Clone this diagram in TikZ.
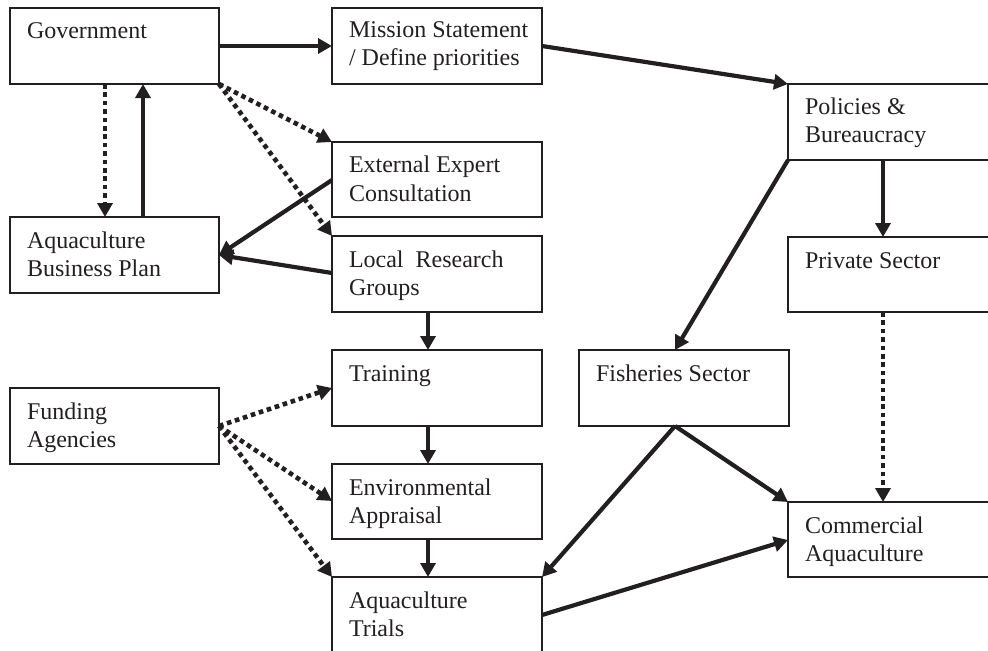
\documentclass[tikz,border=0pt]{standalone}
\usepackage{fontspec}
\setmainfont{Liberation Serif}
\usetikzlibrary{arrows.meta,calc}
\definecolor{ink}{HTML}{231F20}
\tikzset{
  box/.style={draw=ink, line width=1.5bp, rectangle, inner sep=0pt, outer sep=0pt,
    anchor=north west, minimum height=76bp},
  lbl/.style={anchor=base west, inner sep=0pt, outer sep=0pt, text=ink,
    font=\fontsize{24bp}{28bp}\selectfont},
  arr/.style={draw=ink, line width=4.2bp, -{Triangle[length=14bp,width=15bp]}},
  dotarr/.style={draw=ink, line width=4.6bp, dash pattern=on 4.6bp off 3.8bp,
    -{Triangle[length=14bp,width=15bp]}}
}
\newcommand{\twolines}[2]{\begin{tabular}[t]{@{}l@{}}#1\\#2\end{tabular}}
\begin{document}
\begin{tikzpicture}[x=1bp,y=-1bp]
\useasboundingbox (0,0) rectangle (988,651);
\clip (0,0) rectangle (988,651);
% boxes
\node[box, minimum width=209bp] (gov) at (10,8) {};
\node[box, minimum width=210bp] (mis) at (332,8) {};
\node[box, minimum width=220bp] (pol) at (788,84) {};
\node[box, minimum width=210bp, minimum height=75bp] (ext) at (332,142) {};
\node[box, minimum width=209bp] (abp) at (10,217) {};
\node[box, minimum width=210bp] (loc) at (332,236) {};
\node[box, minimum width=220bp, minimum height=75bp] (pri) at (788,237) {};
\node[box, minimum width=210bp] (trn) at (332,350) {};
\node[box, minimum width=210bp] (fis) at (579,350) {};
\node[box, minimum width=209bp] (fun) at (10,388) {};
\node[box, minimum width=210bp, minimum height=75bp] (env) at (332,464) {};
\node[box, minimum width=220bp, minimum height=75bp] (com) at (788,502) {};
\node[box, minimum width=210bp, minimum height=90bp] (tri) at (332,577) {};
% labels
\node[lbl] (govt) at ($(gov.north west)+(17,31)$) {Government};
\node[lbl] (mist) at ($(mis.north west)+(17,30)$) {\twolines{Mission Statement}{/ Define priorities}};
\node[lbl] (polt) at ($(pol.north west)+(17,31)$) {\twolines{Policies \&}{Bureaucracy}};
\node[lbl] (extt) at ($(ext.north west)+(17,31)$) {\twolines{External Expert}{Consultation}};
\node[lbl] (abpt) at ($(abp.north west)+(17,31)$) {\twolines{Aquaculture}{Business Plan}};
\node[lbl] (loct) at ($(loc.north west)+(17,31)$) {\twolines{Local\ \ Research}{Groups}};
\node[lbl] (prit) at ($(pri.north west)+(17,31)$) {Private Sector};
\node[lbl] (trnt) at ($(trn.north west)+(17,31)$) {Training};
\node[lbl] (fist) at ($(fis.north west)+(17,31)$) {Fisheries Sector};
\node[lbl] (funt) at ($(fun.north west)+(17,31)$) {\twolines{Funding}{Agencies}};
\node[lbl] (envt) at ($(env.north west)+(17,31)$) {\twolines{Environmental}{Appraisal}};
\node[lbl] (comt) at ($(com.north west)+(17,31)$) {\twolines{Commercial}{Aquaculture}};
\node[lbl] (trit) at ($(tri.north west)+(17,31)$) {\twolines{Aquaculture}{Trials}};
% connectors
\draw[arr] (gov.east) -- (mis.west);
\draw[arr] (mis.east) -- (pol.north west);
\draw[dotarr] ($(gov.south west)+(95,0)$) -- ($(abp.north west)+(95,0)$);
\draw[arr] ($(abp.north west)+(133,0)$) -- ($(gov.south west)+(133,0)$);
\draw[dotarr] (gov.south east) -- (ext.north west);
\draw[dotarr] (gov.south east) -- (loc.north west);
\draw[arr] ($(ext.north west)+(0,38)$) -- (abp.east);
\draw[arr] ($(loc.north west)+(0,37)$) -- (abp.east);
\draw[arr] ($(loc.south west)+(96,0)$) -- ($(trn.north west)+(96,0)$);
\draw[arr] ($(trn.south west)+(96,0)$) -- ($(env.north west)+(96,0)$);
\draw[arr] ($(env.south west)+(96,0)$) -- ($(tri.north west)+(96,0)$);
\draw[dotarr] (fun.east) -- ($(trn.north west)+(0,38)$);
\draw[dotarr] (fun.east) -- ($(env.north west)+(0,37)$);
\draw[dotarr] (fun.east) -- (tri.north west);
\draw[arr] (pol.south west) -- ($(fis.north west)+(96,0)$);
\draw[arr] ($(pol.south west)+(95,0)$) -- ($(pri.north west)+(95,0)$);
\draw[dotarr] ($(pri.south west)+(95,0)$) -- ($(com.north west)+(95,0)$);
\draw[arr] ($(fis.south west)+(96,0)$) -- (com.north west);
\draw[arr] ($(fis.south west)+(96,0)$) -- (tri.north east);
\draw[arr] ($(tri.north west)+(210,38)$) -- ($(com.north west)+(0,38)$);
\end{tikzpicture}
\end{document}
